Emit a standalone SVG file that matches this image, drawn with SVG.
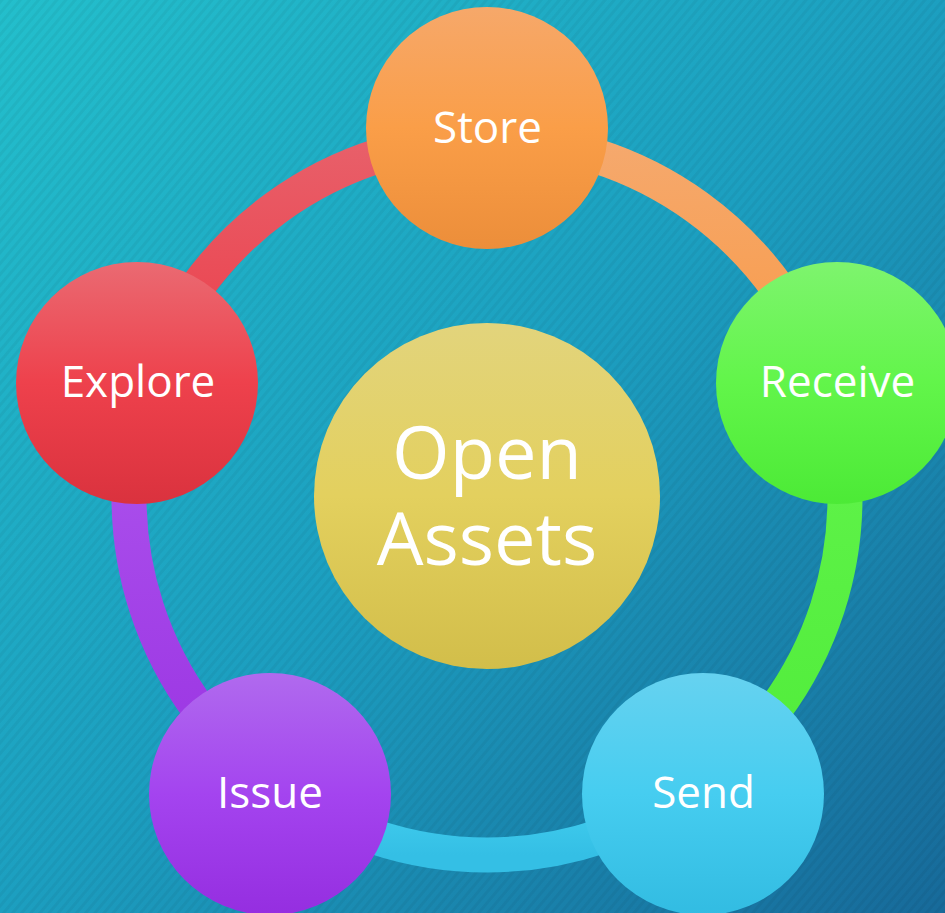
<svg xmlns="http://www.w3.org/2000/svg" width="945" height="913" viewBox="0 0 945 913">
  <defs>
    <linearGradient id="bg" x1="0" y1="0" x2="1" y2="1">
      <stop offset="0" stop-color="#23bfcc"/>
      <stop offset="0.5" stop-color="#1c9fc0"/>
      <stop offset="1" stop-color="#176a9a"/>
    </linearGradient>
    <pattern id="stripes" width="7" height="7" patternUnits="userSpaceOnUse" patternTransform="rotate(40)">
      <rect x="0" y="0" width="3" height="7" fill="#000" fill-opacity="0.045"/>
    </pattern>
    <linearGradient id="gStore" x1="0" y1="0" x2="0" y2="1">
      <stop offset="0" stop-color="#f6a86a"/>
      <stop offset="0.5" stop-color="#fa9e48"/>
      <stop offset="1" stop-color="#ec8e3a"/>
    </linearGradient>
    <linearGradient id="gReceive" x1="0" y1="0" x2="0" y2="1">
      <stop offset="0" stop-color="#7ef46e"/>
      <stop offset="0.5" stop-color="#62f54a"/>
      <stop offset="1" stop-color="#4cea36"/>
    </linearGradient>
    <linearGradient id="gSend" x1="0" y1="0" x2="0" y2="1">
      <stop offset="0" stop-color="#66d2f0"/>
      <stop offset="0.5" stop-color="#46cdf0"/>
      <stop offset="1" stop-color="#32bce2"/>
    </linearGradient>
    <linearGradient id="gIssue" x1="0" y1="0" x2="0" y2="1">
      <stop offset="0" stop-color="#b06aee"/>
      <stop offset="0.5" stop-color="#a444ef"/>
      <stop offset="1" stop-color="#952ee0"/>
    </linearGradient>
    <linearGradient id="gExplore" x1="0" y1="0" x2="0" y2="1">
      <stop offset="0" stop-color="#ea6a72"/>
      <stop offset="0.5" stop-color="#ee414c"/>
      <stop offset="1" stop-color="#da323e"/>
    </linearGradient>
    <linearGradient id="gCenter" x1="0" y1="0" x2="0" y2="1">
      <stop offset="0" stop-color="#e2d47c"/>
      <stop offset="0.5" stop-color="#e3d05e"/>
      <stop offset="1" stop-color="#d2be4a"/>
    </linearGradient>
    <linearGradient id="aRed" x1="0" y1="0" x2="0" y2="1">
      <stop offset="0" stop-color="#e8606a"/>
      <stop offset="1" stop-color="#ec3c48"/>
    </linearGradient>
    <linearGradient id="aOrange" x1="0" y1="0" x2="0" y2="1">
      <stop offset="0" stop-color="#f5a96e"/>
      <stop offset="1" stop-color="#f99a46"/>
    </linearGradient>
    <linearGradient id="aGreen" x1="0" y1="0" x2="0" y2="1">
      <stop offset="0" stop-color="#62f44c"/>
      <stop offset="1" stop-color="#50ec3a"/>
    </linearGradient>
    <linearGradient id="aBlue" x1="0" y1="0" x2="0" y2="1">
      <stop offset="0" stop-color="#46d2f2"/>
      <stop offset="1" stop-color="#34bfe5"/>
    </linearGradient>
    <linearGradient id="aPurple" x1="0" y1="0" x2="0" y2="1">
      <stop offset="0" stop-color="#ae56ee"/>
      <stop offset="1" stop-color="#9a33e2"/>
    </linearGradient>
  </defs>
  <style>
    .arc { fill: none; stroke-width: 35; }
    .lbl { font-family: "Open Sans", "Noto Sans", "Liberation Sans", sans-serif; fill: #ffffff; text-anchor: middle; font-size: 44px; }
    .big { font-size: 74px; }
  </style>

  <rect x="0" y="0" width="945" height="913" fill="url(#bg)"/>
  <rect x="0" y="0" width="945" height="913" fill="url(#stripes)"/>

  <g id="connectors">
    <path class="arc" stroke="url(#aOrange)" d="M 487 139 A 358 358 0 0 1 827.5 386.4"/>
    <path class="arc" stroke="url(#aGreen)" d="M 827.5 386.4 A 358 358 0 0 1 697.4 786.6"/>
    <path class="arc" stroke="url(#aBlue)" d="M 697.4 786.6 A 358 358 0 0 1 276.6 786.6"/>
    <path class="arc" stroke="url(#aPurple)" d="M 276.6 786.6 A 358 358 0 0 1 146.5 386.4"/>
    <path class="arc" stroke="url(#aRed)" d="M 146.5 386.4 A 358 358 0 0 1 487 139"/>
  </g>

  <g id="center">
    <circle cx="487" cy="496" r="173" fill="url(#gCenter)"/>
    <text class="lbl big" x="487" y="479"><tspan x="487" y="479">Open</tspan><tspan x="487" y="565">Assets</tspan></text>
  </g>

  <g id="store">
    <circle cx="487" cy="128" r="121" fill="url(#gStore)"/>
    <text class="lbl" x="487.5" y="143">Store</text>
  </g>
  <g id="receive">
    <circle cx="837" cy="383" r="121" fill="url(#gReceive)"/>
    <text class="lbl" x="837.5" y="397">Receive</text>
  </g>
  <g id="send">
    <circle cx="703" cy="794" r="121" fill="url(#gSend)"/>
    <text class="lbl" x="703.5" y="808">Send</text>
  </g>
  <g id="issue">
    <circle cx="270" cy="794" r="121" fill="url(#gIssue)"/>
    <text class="lbl" x="270" y="808">Issue</text>
  </g>
  <g id="explore">
    <circle cx="137" cy="383" r="121" fill="url(#gExplore)"/>
    <text class="lbl" x="138" y="397">Explore</text>
  </g>
</svg>
